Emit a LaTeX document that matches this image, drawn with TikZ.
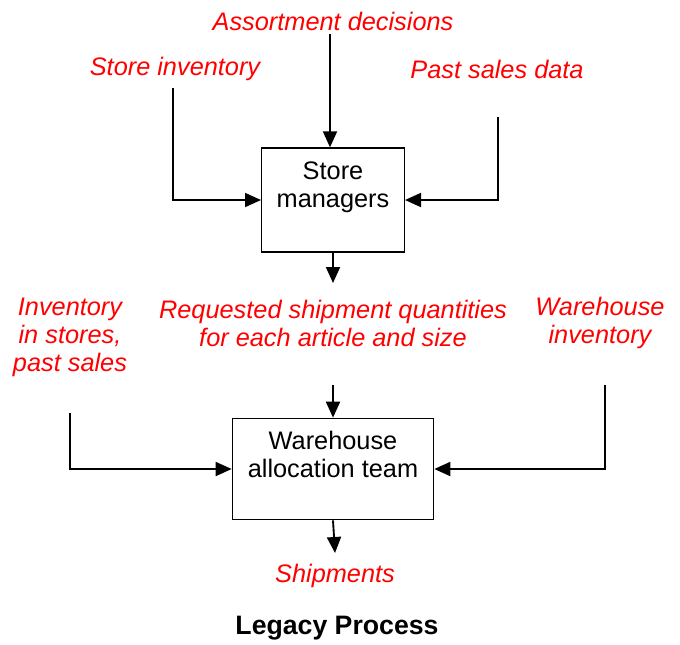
\documentclass[tikz,border=0pt]{standalone}
\usepackage{fontspec}
\setmainfont{Liberation Sans}
\usetikzlibrary{arrows.meta}
\tikzset{
	flow/.style={line width=1.4pt,-{Triangle[length=12pt,width=10.5pt]}},
	proc/.style={draw,line width=1pt,inner sep=0pt},
	note/.style={text=red,font=\fontsize{19}{21}\selectfont\itshape,align=center},
	boxtext/.style={font=\fontsize{19}{21}\selectfont,align=center}
}
\begin{document}
\begin{tikzpicture}[x=0.75pt,y=-0.75pt]
			\useasboundingbox (0,0) rectangle (680,644);
			% store managers step
			\node[note] (ad) at (333,21) {Assortment decisions};
			\node[note] (si) at (175,69) {Store inventory};
			\node[note] (ps) at (497,69) {Past sales data};
			\node[proc,minimum width=107pt,minimum height=78pt] (sm) at (333,200) {};
			\node[boxtext,anchor=north] (smt) at (333,157) {Store\\managers};
			\coordinate (adend) at (330,34);
			\coordinate (siend) at (173,88);
			\coordinate (psend) at (498,117);
			\coordinate (smout) at (333,283);
			\draw[flow] (adend) -- (adend |- sm.north);
			\draw[flow] (siend) |- (sm.west);
			\draw[flow] (psend) |- (sm.east);
			\draw[flow] (sm.south) -- (smout);
			% warehouse step
			\node[note] (inv) at (70,337) {Inventory\\in stores,\\past sales};
			\node[note] (req) at (333,323) {Requested shipment quantities\\for each article and size};
			\node[note] (wi) at (600,323) {Warehouse\\inventory};
			\node[proc,minimum width=151pt,minimum height=76pt] (wh) at (333,469) {};
			\node[boxtext,anchor=north] (wht) at (333,426) {Warehouse\\allocation team};
			\coordinate (reqend) at (333,385);
			\coordinate (invend) at (70,413);
			\coordinate (wiend) at (605,385);
			\coordinate (whout) at (335,553);
			\draw[flow] (reqend) -- (wh.north);
			\draw[flow] (invend) |- (wh.west);
			\draw[flow] (wiend) |- (wh.east);
			\draw[flow] (wh.south) -- (whout);
			\node[note] (sh) at (335,576) {Shipments};
			\node[boxtext,font=\fontsize{20}{22}\selectfont\bfseries] (title) at (337,628) {Legacy Process};
		\end{tikzpicture}
\end{document}
